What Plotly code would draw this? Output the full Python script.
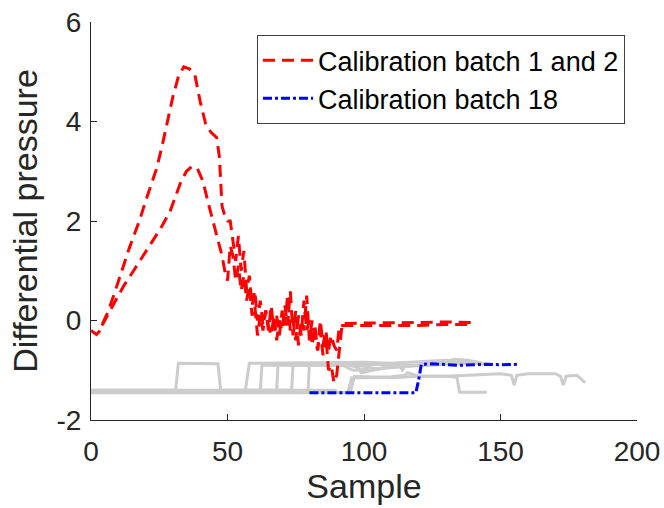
import plotly.graph_objects as go

# red curves (calibration batches 1 and 2)
batch1_x = [0, 1, 2, 3, 4, 6, 8, 10, 12, 14, 16, 18, 20, 22, 24, 26, 28, 30, 32, 34, 36, 38, 40, 42, 44, 46, 47, 48,
            49, 50, 51, 52, 53, 54, 55, 56, 57, 58, 59, 60, 61, 62, 63, 64, 65, 66, 67, 68, 69, 70,
            71, 72, 73, 74, 75, 76, 77, 78, 79, 80, 81, 82, 83, 84, 85, 86, 87, 88, 89, 90, 91, 92,
            100, 110, 120, 130, 140]
batch1_y = [-0.2, -0.25, -0.28, -0.22, -0.1, 0.15, 0.45, 0.8, 1.1, 1.45, 1.75, 2.05, 2.4, 2.75, 3.05, 3.5, 4.0, 4.5, 4.9, 5.1, 5.06, 4.95, 4.4, 3.95, 3.78, 3.68, 3.3, 2.3,
            2.1, 2.0, 2.0, 1.6, 1.2, 1.7, 1.0, 1.4, 0.6, 0.9, 0.3, 0.6, 0.0, 0.4, -0.1, 0.2, -0.2, 0.3, -0.2, 0.1, -0.3, 0.2,
            -0.1, 0.5, -0.2, 0.0, -0.4, 0.1, -0.3, 0.4, -0.2, 0.0, -0.5, -0.1, -0.6, -0.2, -0.7, -0.3, -1.0, -0.9, -1.25, -1.1, -0.6, -0.06,
            -0.05, -0.05, -0.04, -0.03, -0.04]

batch2_x = [4, 6, 8, 10, 12, 15, 18, 22, 26, 29, 31, 33, 35, 37, 39, 41, 43, 44, 45, 46, 47, 48, 49, 50,
            51, 52, 53, 54, 55, 56, 57, 58, 59, 60, 61, 62, 63, 64, 65, 66, 67, 68, 69, 70,
            71, 72, 73, 74, 75, 76, 77, 78, 79, 80, 81, 82, 83, 84, 85, 86, 87, 88, 89, 90, 91, 92,
            100, 110, 120, 130, 138]
batch2_y = [-0.1, 0.1, 0.3, 0.5, 0.7, 0.95, 1.2, 1.55, 1.9, 2.2, 2.5, 2.8, 3.0, 3.1, 3.05, 2.8, 2.35, 2.15, 1.9, 1.7, 1.5, 1.3, 1.0, 0.8,
            1.5, 1.3, 0.8, 1.1, 0.6, 0.9, 0.4, 0.7, 0.1, 0.3, -0.3, 0.1, -0.2, 0.2, -0.1, -0.3, 0.1, -0.4, 0.0, -0.2,
            0.3, -0.1, 0.6, -0.3, 0.2, -0.5, 0.0, -0.2, 0.5, -0.4, 0.0, -0.3, -0.6, 0.0, -0.5, -0.2, -0.6, -0.3, -0.5, -0.6, -0.1, -0.1,
            -0.1, -0.09, -0.1, -0.08, -0.08]

# blue curve (calibration batch 18)
batch18_x = [80, 100, 119, 120, 121, 125, 130, 135, 140, 145, 150, 157]
batch18_y = [-1.45, -1.45, -1.45, -1.2, -0.88, -0.87, -0.89, -0.9, -0.89, -0.88, -0.89, -0.88]

# grey curves (other batches)
grey_x = [
    [0, 31, 32, 46.5, 47.5, 90],
    [0, 56.5, 58, 80, 100, 110, 120, 130, 135, 140, 145],
    [0, 62, 62.6, 90, 100, 105, 110, 120, 128, 133, 138, 143],
    [0, 68, 68.5, 95, 98, 99, 110, 125, 140],
    [0, 73.5, 74, 100, 113, 114, 115, 125, 135],
    [0, 79.5, 80, 92, 94, 96, 110, 120, 125, 130],
    [0, 95, 96.5, 110, 120, 130, 134, 135, 145],
    [0, 94, 95.5, 100, 110, 115, 116, 120, 130, 140, 150, 154, 155, 156, 160, 170, 172, 173, 174, 178, 180, 181],
]
grey_y = [
    [-1.40, -1.40, -0.86, -0.87, -1.40, -1.40],
    [-1.42, -1.42, -0.86, -0.85, -0.84, -0.86, -0.83, -0.8, -0.82, -0.86, -0.87],
    [-1.44, -1.44, -0.9, -0.9, -0.92, -0.98, -0.92, -0.9, -0.86, -0.78, -0.8, -0.85],
    [-1.42, -1.42, -0.88, -0.9, -0.95, -1.05, -0.92, -0.88, -0.86],
    [-1.40, -1.40, -0.9, -0.88, -0.9, -1.0, -0.92, -0.9, -0.85],
    [-1.43, -1.43, -0.87, -0.88, -0.95, -1.0, -0.95, -0.9, -0.85, -0.83],
    [-1.44, -1.44, -1.12, -1.15, -1.12, -1.12, -1.14, -1.44, -1.44],
    [-1.45, -1.45, -1.15, -1.15, -1.13, -1.1, -1.05, -1.12, -1.12, -1.1, -1.07, -1.1, -1.3, -1.1, -1.07, -1.07, -1.12, -1.3, -1.12, -1.1, -1.2, -1.25],
]

x_ticks = [0, 50, 100, 150, 200]
y_ticks = [-2, 0, 2, 4, 6]
y_tick_text = ["-2", "0", "2", "4", "6"]

fig = go.Figure()

for gx, gy in zip(grey_x, grey_y):
    fig.add_trace(go.Scatter(x=gx, y=gy, mode="lines", showlegend=False,
                             line=dict(color="#cccccc", width=3)))

fig.add_trace(go.Scatter(x=batch1_x, y=batch1_y, mode="lines", name="Calibration batch 1 and 2",
                         legendgroup="red", line=dict(color="#ff0000", width=3, dash="12px,7px")))
fig.add_trace(go.Scatter(x=batch2_x, y=batch2_y, mode="lines", showlegend=False,
                         legendgroup="red", line=dict(color="#ff0000", width=3, dash="12px,7px")))
fig.add_trace(go.Scatter(x=batch18_x, y=batch18_y, mode="lines", name="Calibration batch 18",
                         line=dict(color="#0000ff", width=3, dash="9px,3px,3px,3px")))

font_family = "Liberation Sans, Arial, sans-serif"
axis_font = dict(family=font_family, size=28, color="#262626")
title_font = dict(family=font_family, size=34, color="#262626")

fig.update_layout(
    width=664, height=508,
    margin=dict(l=91, r=27, t=22, b=88),
    plot_bgcolor="white", paper_bgcolor="white",
    legend=dict(x=0.304, y=0.967, xanchor="left", yanchor="top",
                bgcolor="white", bordercolor="#404040", borderwidth=1,
                font=dict(family=font_family, size=27, color="#000000"),
                itemwidth=50, tracegroupgap=0),
)
fig.update_xaxes(range=[0, 200], tickvals=x_ticks, showgrid=False, zeroline=False, automargin=False,
                 showline=True, linecolor="#262626", linewidth=1, ticks="inside", ticklen=6,
                 tickcolor="#262626", tickfont=axis_font, ticklabelstandoff=6,
                 title=dict(text="Sample", font=title_font, standoff=8))
fig.update_yaxes(range=[-2, 6], tickvals=y_ticks, ticktext=y_tick_text, showgrid=False, zeroline=False,
                 automargin=False, showline=True, linecolor="#262626", linewidth=1, ticks="inside", ticklen=6,
                 tickcolor="#262626", tickfont=axis_font, ticklabelstandoff=3,
                 title=dict(text="Differential pressure", font=title_font, standoff=8))

# drop the default page margin so the figure sits at the window's corner
fig.write_html("out.html", config={"displayModeBar": False},
               post_script="document.body.style.margin='0';")
